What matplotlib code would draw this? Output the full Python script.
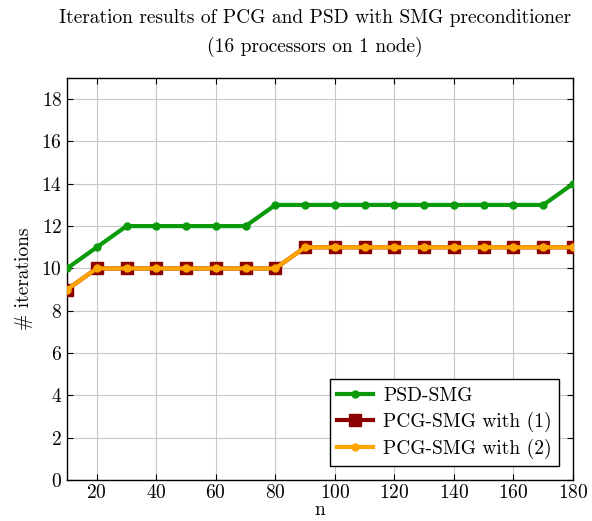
import matplotlib
matplotlib.use("Agg")
import matplotlib.pyplot as plt

plt.rcParams['font.family'] = 'serif'
plt.rcParams['font.serif'] = ['cmr10', 'DejaVu Serif']
plt.rcParams['mathtext.fontset'] = 'cm'
plt.rcParams['axes.formatter.use_mathtext'] = True

n = [10, 20, 30, 40, 50, 60, 70, 80, 90, 100, 110, 120, 130, 140, 150, 160, 170, 180]
psd_smg = [10, 11, 12, 12, 12, 12, 12, 13, 13, 13, 13, 13, 13, 13, 13, 13, 13, 14]
pcg_smg_1 = [9, 10, 10, 10, 10, 10, 10, 10, 11, 11, 11, 11, 11, 11, 11, 11, 11, 11]
pcg_smg_2 = [9, 10, 10, 10, 10, 10, 10, 10, 11, 11, 11, 11, 11, 11, 11, 11, 11, 11]

fig = plt.figure(figsize=(5.92, 5.21), dpi=100)
ax = fig.add_axes([67/592, 1-480/521, (573-67)/592, (480-78)/521])

ax.plot(n, psd_smg, color='#0a9a0a', lw=3, marker='o', ms=5, label='PSD-SMG', zorder=3)
ax.plot(n, pcg_smg_1, color='#8b0000', lw=3, marker='s', ms=9, label='PCG-SMG with (1)', zorder=3)
ax.plot(n, pcg_smg_2, color='#ffa500', lw=3, marker='o', ms=5, label='PCG-SMG with (2)', zorder=4)

ax.set_xlim(10, 180)
ax.set_ylim(0, 19)
ax.set_xticks(range(20, 181, 20))
ax.set_yticks(range(0, 19, 2))
ax.grid(True, color='#c8c8c8', lw=0.8)
ax.set_axisbelow(True)
ax.tick_params(direction='in', top=True, right=True, labelsize=14, length=4)
ax.tick_params(axis='x', pad=3)
for s in ax.spines.values():
    s.set_linewidth(1.0)

ax.set_xlabel('n', fontsize=14, labelpad=-1)
ax.set_ylabel('# iterations', fontsize=14, labelpad=6)
fig.text(315/592, 1-18/521, 'Iteration results of PCG and PSD with SMG preconditioner',
         ha='center', va='center', fontsize=14)
fig.text(315/592, 1-47/521, '(16 processors on 1 node)',
         ha='center', va='center', fontsize=14)

leg = ax.legend(loc='lower right', fontsize=14, fancybox=False, edgecolor='black',
                framealpha=1, borderaxespad=0.7, handlelength=1.85, labelspacing=0.35,
                borderpad=0.4, handletextpad=0.5)
leg.get_frame().set_linewidth(1.0)

fig.savefig('out.png', dpi=100)
